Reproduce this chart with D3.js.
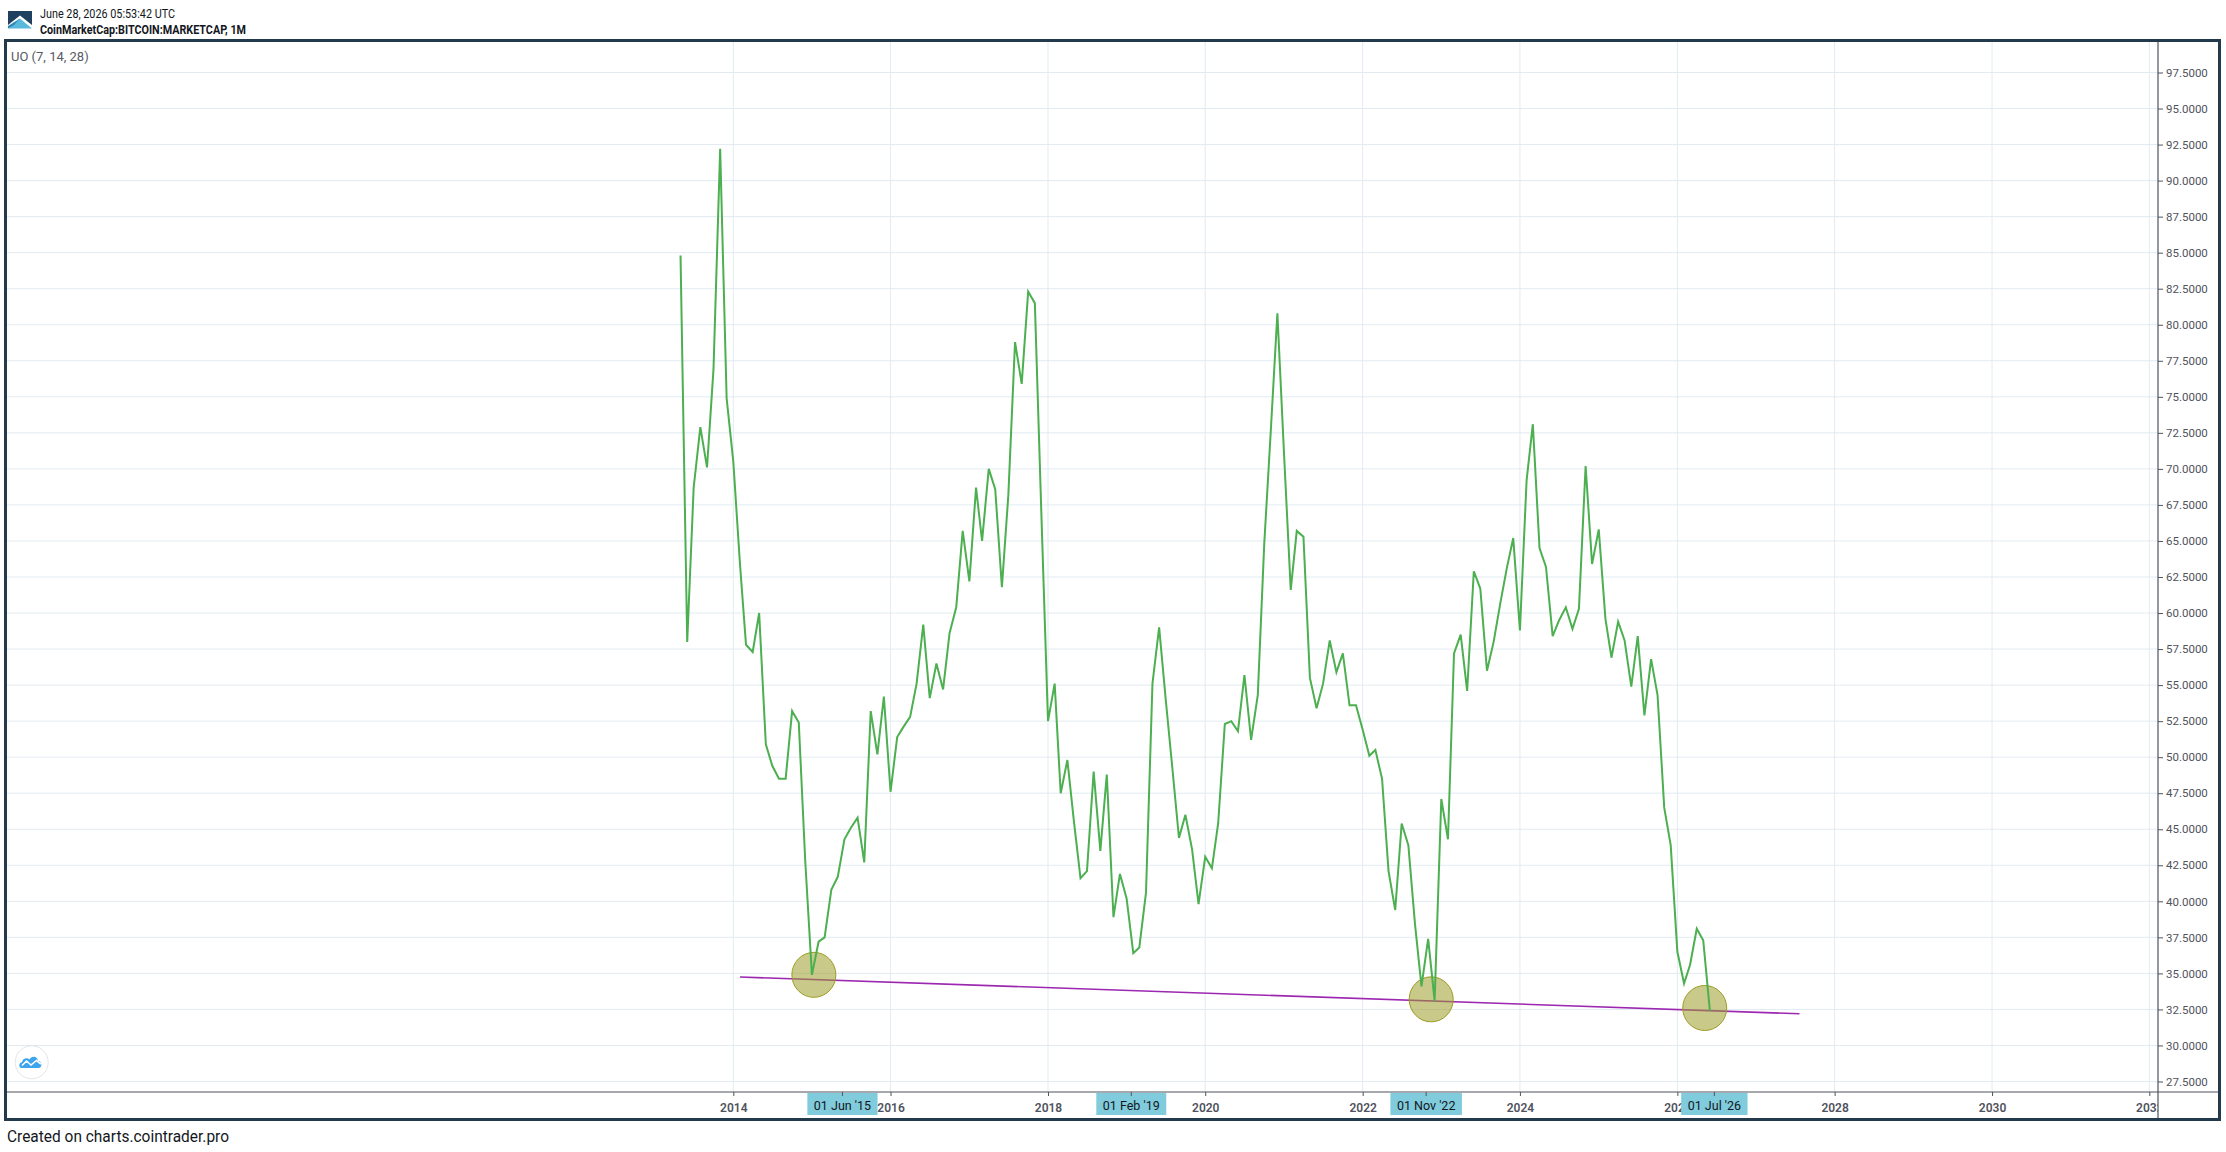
<!DOCTYPE html>
<html>
<head>
<meta charset="utf-8">
<script src="https://cdn.jsdelivr.net/npm/d3@7"></script>
<style>
  html, body { margin: 0; padding: 0; background: #ffffff; }
  svg { display: block; }
  text { font-family: Roboto, "Noto Sans", sans-serif; }
</style>
</head>
<body>
<svg id="chart" width="2226" height="1152"></svg>
<script>
// ---------------- DATA ----------------
const headerDate = "June 28, 2026 05:53:42 UTC";
const headerSymbol = "CoinMarketCap:BITCOIN:MARKETCAP, 1M";
const indicatorLabel = "UO (7, 14, 28)";
const footerText = "Created on charts.cointrader.pro";

const firstMonth = "2013-05-01";
// Ultimate Oscillator monthly values, per calendar year
const uo2013 = [84.8, 58.0, 68.7, 72.9, 70.1, 76.9, 92.2, 74.9];               // May-Dec
const uo2014 = [70.5, 63.4, 57.8, 57.3, 60.0, 50.9, 49.4, 48.5, 48.5, 53.2, 52.4, 42.8];
const uo2015 = [34.9, 37.2, 37.5, 40.8, 41.7, 44.3, 45.1, 45.8, 42.7, 53.2, 50.2, 54.2];
const uo2016 = [47.6, 51.4, 52.1, 52.8, 55.1, 59.2, 54.1, 56.5, 54.7, 58.6, 60.4, 65.7];
const uo2017 = [62.2, 68.7, 65.0, 70.0, 68.6, 61.8, 68.2, 78.8, 75.9, 82.3, 81.5, 67.0];
const uo2018 = [52.5, 55.1, 47.5, 49.8, 45.6, 41.6, 42.1, 49.0, 43.5, 48.8, 38.9, 41.9];
const uo2019 = [40.2, 36.4, 36.8, 40.6, 55.1, 59.0, 54.1, 49.3, 44.4, 46.0, 43.6, 39.8];
const uo2020 = [43.1, 42.3, 45.4, 52.3, 52.5, 51.8, 55.7, 51.2, 54.3, 64.8, 72.8, 80.8];
const uo2021 = [71.0, 61.6, 65.7, 65.3, 55.5, 53.4, 55.1, 58.1, 55.9, 57.2, 53.6, 53.6];
const uo2022 = [51.9, 50.1, 50.5, 48.5, 42.1, 39.4, 45.4, 43.9, 38.4, 34.1, 37.4, 33.1];
const uo2023 = [47.1, 44.3, 57.2, 58.5, 54.6, 62.9, 61.7, 56.0, 58.0, 60.6, 63.1, 65.2];
const uo2024 = [58.8, 69.2, 73.1, 64.5, 63.2, 58.4, 59.5, 60.4, 58.9, 60.3, 70.2, 63.4];
const uo2025 = [65.8, 59.6, 56.9, 59.4, 58.1, 54.9, 58.4, 52.9, 56.8, 54.3, 46.5, 43.9];
const uo2026 = [36.5, 34.3, 35.6, 38.1, 37.3, 32.4];                              // Jan-Jun

// support trend line (two anchors)
const trendDates = ["2014-02-01", "2027-07-22"];
const trendValues = [34.75, 32.2];

// highlighted lows (ellipse markers)
const lowDates = ["2015-01-10", "2022-11-15", "2026-05-08"];
const lowValues = [34.9, 33.2, 32.6];

// time-axis highlighted labels
const markerDates = ["2015-06-01", "2019-02-01", "2022-11-01", "2026-07-01"];

// axis ticks
const yearTicks = [2014, 2016, 2018, 2020, 2022, 2024, 2026, 2028, 2030, 2032];
const valueTicks = [27.5, 30, 32.5, 35, 37.5, 40, 42.5, 45, 47.5, 50, 52.5, 55, 57.5, 60,
  62.5, 65, 67.5, 70, 72.5, 75, 77.5, 80, 82.5, 85, 87.5, 90, 92.5, 95, 97.5];

// ---------------- BUILD ----------------
const uoValues = [].concat(uo2013, uo2014, uo2015, uo2016, uo2017, uo2018, uo2019,
  uo2020, uo2021, uo2022, uo2023, uo2024, uo2025, uo2026);
const start = new Date(firstMonth + "T00:00:00Z");
const series = uoValues.map((v, i) => ({ date: d3.utcMonth.offset(start, i), value: v }));
const parse = s => new Date(s + "T00:00:00Z");

const svg = d3.select("#chart");
const W = 2226, H = 1152;
const plot = { left: 7, right: 2158, top: 42, bottom: 1092 };

const x = d3.scaleUtc()
  .domain([Date.UTC(2014, 0, 1), Date.UTC(2032, 0, 1)])
  .range([733.3, 2149.3]);
const y = d3.scaleLinear().domain([27.5, 97.5]).range([1081.5, 72.5]);

svg.append("rect").attr("width", W).attr("height", H).attr("fill", "#ffffff");

const defs = svg.append("defs");
defs.append("clipPath").attr("id", "plotClip").append("rect")
  .attr("x", plot.left).attr("y", plot.top)
  .attr("width", plot.right - plot.left).attr("height", plot.bottom - plot.top);
defs.append("clipPath").attr("id", "xAxisClip").append("rect")
  .attr("x", plot.left).attr("y", plot.bottom)
  .attr("width", plot.right - plot.left).attr("height", 30);

// grid
const grid = svg.append("g").attr("clip-path", "url(#plotClip)");
grid.selectAll("line.h").data(valueTicks).join("line")
  .attr("x1", plot.left).attr("x2", plot.right)
  .attr("y1", d => y(d)).attr("y2", d => y(d))
  .attr("stroke", "#e1ebf2").attr("stroke-width", 1);
grid.selectAll("line.v").data(yearTicks).join("line")
  .attr("x1", d => x(Date.UTC(d, 0, 1))).attr("x2", d => x(Date.UTC(d, 0, 1)))
  .attr("y1", plot.top).attr("y2", plot.bottom)
  .attr("stroke", "#e1ebf2").attr("stroke-width", 1);

// chart content
const content = svg.append("g").attr("clip-path", "url(#plotClip)");
content.append("line")
  .attr("x1", x(parse(trendDates[0]))).attr("y1", y(trendValues[0]))
  .attr("x2", x(parse(trendDates[1]))).attr("y2", y(trendValues[1]))
  .attr("stroke", "#9c27b0").attr("stroke-width", 1.6);

content.selectAll("ellipse.low").data(lowDates.map((d, i) => ({ date: parse(d), value: lowValues[i] })))
  .join("ellipse")
  .attr("cx", d => x(d.date)).attr("cy", d => y(d.value))
  .attr("rx", 22).attr("ry", 22.5)
  .attr("fill", "rgb(157,157,42)").attr("fill-opacity", 0.55)
  .attr("stroke", "#9c9c22").attr("stroke-width", 1);

const line = d3.line().x(d => x(d.date)).y(d => y(d.value));
content.append("path").datum(series)
  .attr("d", line)
  .attr("fill", "none")
  .attr("stroke", "#4caf50")
  .attr("stroke-width", 2)
  .attr("stroke-linejoin", "miter");

// indicator label
svg.append("text").attr("x", 11).attr("y", 61)
  .attr("font-size", 13).attr("fill", "#555a63").text(indicatorLabel);

// cloud button
const cloud = svg.append("g");
cloud.append("circle").attr("cx", 31.7).attr("cy", 1062.3).attr("r", 16.5)
  .attr("fill", "#ffffff").attr("stroke", "#e2e5ea").attr("stroke-width", 1);
cloud.append("path")
  .attr("d", "M21.5,1068 C18.5,1068 18.5,1062.5 22,1062.3 C22.5,1058.5 27,1057 29.5,1059.5 C31.5,1055.5 37.5,1056 38,1061 C42.5,1061 42.5,1068 38.5,1068 Z")
  .attr("fill", "#3ea4ee");
cloud.append("path")
  .attr("d", "M22,1065.5 L26.5,1061 L31,1065 L36.5,1060.5 L41,1064")
  .attr("fill", "none").attr("stroke", "#ffffff").attr("stroke-width", 1.6);

// y axis (right)
const yAxis = d3.axisRight(y).tickValues(valueTicks).tickFormat(d3.format(".4f")).tickSize(5).tickPadding(3);
const gy = svg.append("g").attr("transform", `translate(${plot.right},0)`).call(yAxis);
gy.select(".domain").remove();
gy.selectAll(".tick line").attr("stroke", "#50535e");
gy.selectAll(".tick text").attr("font-size", 11.5).attr("fill", "#50535e")
  .attr("font-family", "Roboto, sans-serif");

// x axis (outer group clips in page coordinates, inner group is translated)
const xAxis = d3.axisBottom(x).tickValues(yearTicks.map(d => new Date(Date.UTC(d, 0, 1))))
  .tickFormat(d3.utcFormat("%Y")).tickSize(4);
const gxOuter = svg.append("g").attr("clip-path", "url(#xAxisClip)");
const gx = gxOuter.append("g").attr("transform", `translate(0,${plot.bottom})`).call(xAxis);
gx.select(".domain").remove();
gx.selectAll(".tick line").attr("stroke", "#50535e");
gx.selectAll(".tick text").attr("y", 19.5).attr("dy", 0)
  .attr("font-size", 12).attr("font-weight", 600).attr("fill", "#50535e")
  .attr("font-family", "Roboto, sans-serif");

// highlighted date labels on time axis
const fmt = d3.utcFormat("%d %b '%y");
const mk = svg.append("g");
markerDates.forEach(ds => {
  const d = parse(ds);
  const cx = x(d) - 2;
  const t = mk.append("text").attr("x", cx).attr("y", 1109.5)
    .attr("text-anchor", "middle").attr("font-size", 12.5).attr("fill", "#131722")
    .text(fmt(d));
  const bw = t.node().getComputedTextLength() + 13;
  mk.insert("rect", "text").attr("x", cx - bw / 2).attr("y", 1093).attr("width", bw).attr("height", 22)
    .attr("fill", "#80cbdc");
  mk.insert("line", "text").attr("x1", cx).attr("x2", cx).attr("y1", 1092).attr("y2", 1096)
    .attr("stroke", "#50535e");
});

// axis lines
svg.append("line").attr("x1", plot.left).attr("x2", 2218).attr("y1", plot.bottom).attr("y2", plot.bottom)
  .attr("stroke", "#50535e").attr("stroke-width", 1.2);
svg.append("line").attr("x1", plot.right).attr("x2", plot.right).attr("y1", 41).attr("y2", 1118)
  .attr("stroke", "#50535e").attr("stroke-width", 1.2);

// frame
svg.append("rect").attr("x", 5.5).attr("y", 40.5).attr("width", 2214).attr("height", 1079)
  .attr("fill", "none").attr("stroke", "#233a4d").attr("stroke-width", 3);

// header logo
const logo = svg.append("g");
logo.append("polygon").attr("points", "8,11 32,11 32,25 20,15.5 8,25").attr("fill", "#1f4060");
logo.append("polygon").attr("points", "8,28.5 20,18.5 32,28.5").attr("fill", "#58b9dd");
logo.append("polygon").attr("points", "8,28.5 8,26 20,18.5 14,25").attr("fill", "#2f86b5");

// header text
svg.append("text").attr("x", 40).attr("y", 17.5).attr("font-size", 13).attr("fill", "#131722")
  .attr("textLength", 135).attr("lengthAdjust", "spacingAndGlyphs").text(headerDate);
svg.append("text").attr("x", 40).attr("y", 33.5).attr("font-size", 13).attr("font-weight", 700)
  .attr("fill", "#131722").attr("textLength", 206).attr("lengthAdjust", "spacingAndGlyphs")
  .text(headerSymbol);

// footer
svg.append("text").attr("x", 7).attr("y", 1141.5).attr("font-size", 17).attr("fill", "#131722")
  .attr("textLength", 222).attr("lengthAdjust", "spacingAndGlyphs").text(footerText);
</script>
</body>
</html>
